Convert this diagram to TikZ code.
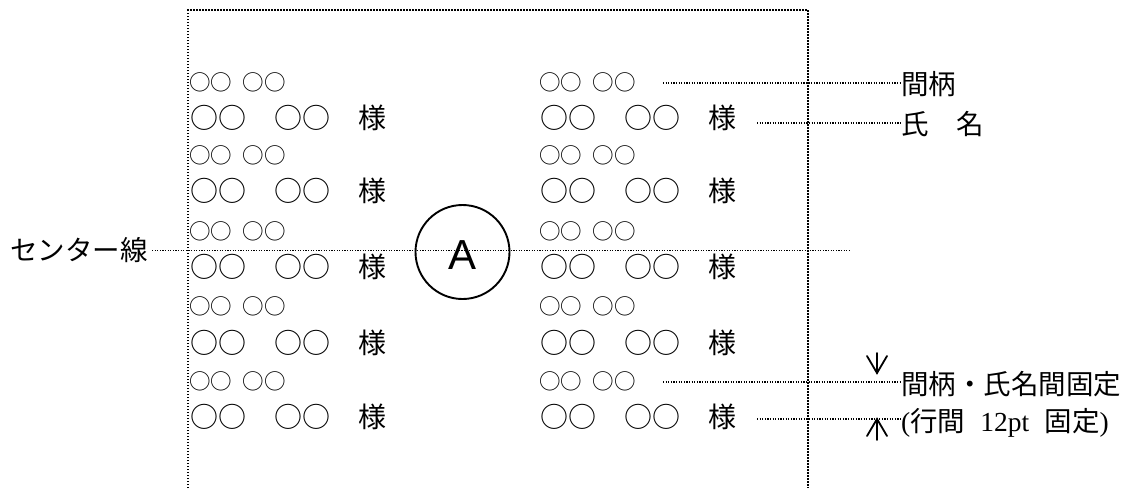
\documentclass[tikz,border=0pt]{standalone}
\usepackage{fontspec}
\setmainfont{Liberation Serif}
\newfontfamily\jp{Noto Sans CJK JP}
\newfontfamily\asans{Liberation Sans}
\newfontfamily\lserif{Liberation Serif}
\newcommand{\smallrow}{○○\hspace{0.5em}○○}
\newcommand{\bigrow}{○○　○○　様}
\tikzset{
  dotline/.style={line width=1.1pt, dash pattern=on 1.1pt off 1.5pt},
  boxline/.style={line width=1.5pt, dash pattern=on 1.5pt off 1.5pt},
  rowtext/.style={anchor=west, inner sep=0pt, text height=0.88em, text depth=0.12em},
  smallfont/.style={rowtext, font=\jp\fontsize{21.5}{21.5}\selectfont},
  bigfont/.style={rowtext, font=\jp\fontsize{28}{28}\selectfont},
  lbl/.style={anchor=west, inner sep=0pt, font=\jp\fontsize{27.5}{27.5}\selectfont, text height=0.88em, text depth=0.12em},
  arr/.style={line width=1.8pt, line cap=round, line join=miter}
}
\begin{document}
\begin{tikzpicture}[x=1pt,y=-1pt]
\useasboundingbox (0,0) rectangle (1126,488);
% frame
\coordinate (bl) at (188,488);
\coordinate (tl) at (188,10);
\coordinate (tr) at (808,10);
\coordinate (br) at (808,488);
\draw[boxline] (bl) -- (tl) -- (tr) -- (br);
% rows (node y includes offset of glyph centre)
\foreach \i/\ys/\yb in {1/87/125, 2/160/198, 3/236/274, 4/311/350, 5/386/424} {
  \node[smallfont] (ls\i) at (189,\ys) {\smallrow};
  \node[bigfont] (lb\i) at (190,\yb) {\bigrow};
  \node[smallfont] (rs\i) at (539,\ys) {\smallrow};
  \node[bigfont] (rb\i) at (540,\yb) {\bigrow};
}
% center line
\node[lbl, anchor=east] (center) at (148,257) {センター線};
\coordinate (cend) at (851,250.5);
\coordinate (cstart) at (152,250.5);
\draw[dotline] (cstart) -- (cend);
% circle A
\node[circle, draw, line width=1.9pt, minimum size=94pt, inner sep=0pt] (A) at (462.5,252) {};
\node[font=\asans\fontsize{42}{42}\selectfont, inner sep=0pt] (Atext) at (462.5,255) {A};
% right labels
\node[lbl] (gara) at (901,91) {間柄};
\node[lbl] (shimei) at (901,131) {氏　名};
\node[lbl] (fix1) at (901,391) {間柄・氏名間固定};
\node[lbl] (fix2) at (901,428) {{\lserif(}行間\hspace{0.55em}{\lserif 12pt}\hspace{0.55em}固定{\lserif)}};
% leader lines
\coordinate (g1) at (663,83);
\coordinate (s1) at (757,123);
\coordinate (f1) at (663,382);
\coordinate (f2) at (757,419);
\draw[dotline] (g1) -- (gara.west |- g1);
\draw[dotline] (s1) -- (shimei.west |- s1);
\draw[dotline] (f1) -- (fix1.west |- f1);
\draw[dotline] (f2) -- (fix2.west |- f2);
% arrows
\coordinate (ad0) at (877,353);
\coordinate (ad1) at (877,373);
\coordinate (au0) at (877,440);
\coordinate (au1) at (877,419);
\draw[arr] (ad0) -- (ad1);
\draw[arr] (ad1) ++(-10,-17) -- (ad1) -- ++(10,-17);
\draw[arr] (au0) -- (au1);
\draw[arr] (au1) ++(-10,17) -- (au1) -- ++(10,17);
\end{tikzpicture}
\end{document}
